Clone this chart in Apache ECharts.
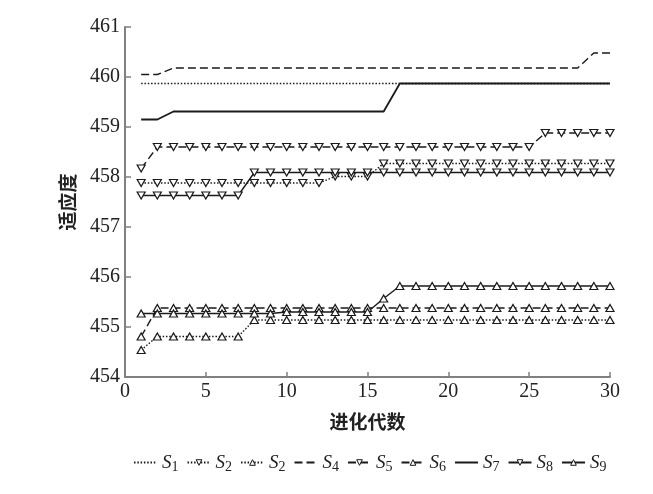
<!DOCTYPE html>
<html>
<head>
<meta charset="utf-8">
<script src="https://cdn.jsdelivr.net/npm/echarts@6/dist/echarts.min.js"></script>
<style>html,body{margin:0;padding:0;background:#fff;}#c{width:653px;height:494px;}</style>
</head>
<body>
<div id="c"></div>
<script>
var generations = [1,2,3,4,5,6,7,8,9,10,11,12,13,14,15,16,17,18,19,20,21,22,23,24,25,26,27,28,29,30];
var S1 = [459.87,459.87,459.87,459.87,459.87,459.87,459.87,459.87,459.87,459.87,459.87,459.87,459.87,459.87,459.87,459.87,459.87,459.87,459.87,459.87,459.87,459.87,459.87,459.87,459.87,459.87,459.87,459.87,459.87,459.87];
var S2 = [457.88,457.88,457.88,457.88,457.88,457.88,457.88,457.88,457.88,457.88,457.88,457.88,458.01,458.01,458.01,458.27,458.27,458.27,458.27,458.27,458.27,458.27,458.27,458.27,458.27,458.27,458.27,458.27,458.27,458.27];
var S3 = [454.54,454.81,454.81,454.81,454.81,454.81,454.81,455.14,455.14,455.14,455.14,455.14,455.14,455.14,455.14,455.14,455.14,455.14,455.14,455.14,455.14,455.14,455.14,455.14,455.14,455.14,455.14,455.14,455.14,455.14];
var S4 = [460.05,460.05,460.18,460.18,460.18,460.18,460.18,460.18,460.18,460.18,460.18,460.18,460.18,460.18,460.18,460.18,460.18,460.18,460.18,460.18,460.18,460.18,460.18,460.18,460.18,460.18,460.18,460.18,460.48,460.48];
var S5 = [458.17,458.6,458.6,458.6,458.6,458.6,458.6,458.6,458.6,458.6,458.6,458.6,458.6,458.6,458.6,458.6,458.6,458.6,458.6,458.6,458.6,458.6,458.6,458.6,458.6,458.88,458.88,458.88,458.88,458.88];
var S6 = [454.81,455.38,455.38,455.38,455.38,455.38,455.38,455.38,455.38,455.38,455.38,455.38,455.38,455.38,455.38,455.38,455.38,455.38,455.38,455.38,455.38,455.38,455.38,455.38,455.38,455.38,455.38,455.38,455.38,455.38];
var S7 = [459.15,459.15,459.31,459.31,459.31,459.31,459.31,459.31,459.31,459.31,459.31,459.31,459.31,459.31,459.31,459.31,459.87,459.87,459.87,459.87,459.87,459.87,459.87,459.87,459.87,459.87,459.87,459.87,459.87,459.87];
var S8 = [457.63,457.63,457.63,457.63,457.63,457.63,457.63,458.09,458.09,458.09,458.09,458.09,458.09,458.09,458.09,458.09,458.09,458.09,458.09,458.09,458.09,458.09,458.09,458.09,458.09,458.09,458.09,458.09,458.09,458.09];
var S9 = [455.27,455.27,455.27,455.27,455.27,455.27,455.27,455.27,455.27,455.3,455.3,455.3,455.3,455.3,455.3,455.57,455.82,455.82,455.82,455.82,455.82,455.82,455.82,455.82,455.82,455.82,455.82,455.82,455.82,455.82];
var seriesNames = ['S1','S2','S3','S4','S5','S6','S7','S8','S9'];
var legendLabels = ['1','2','2','4','5','6','7','8','9'];
var xTicks = [0,5,10,15,20,25,30];
var yTicks = [454,455,456,457,458,459,460,461];

var values = [S1,S2,S3,S4,S5,S6,S7,S8,S9];
var DOT = [1.5,1.8], DASH = [8,4];
var styles = [
  {type: DOT, symbol: 'none'},
  {type: DOT, symbol: 'triangle', rot: 180},
  {type: DOT, symbol: 'triangle', rot: 0},
  {type: DASH, symbol: 'none'},
  {type: DASH, symbol: 'triangle', rot: 180},
  {type: DASH, symbol: 'triangle', rot: 0},
  {type: 'solid', symbol: 'none'},
  {type: 'solid', symbol: 'triangle', rot: 180},
  {type: 'solid', symbol: 'triangle', rot: 0}
];
var INK = '#1a1a1a';
var series = values.map(function(v, i){
  var st = styles[i];
  return {
    name: seriesNames[i],
    type: 'line',
    data: generations.map(function(g, k){ return [g, v[k]]; }),
    symbol: st.symbol,
    symbolSize: [8, 7],
    symbolRotate: st.rot || 0,
    showSymbol: st.symbol !== 'none',
    lineStyle: {color: INK, width: i === 6 ? 1.8 : 1.4, type: st.type},
    itemStyle: {color: '#fff', borderColor: INK, borderWidth: 1.2},
    emphasis: {disabled: true},
    animation: false,
    z: i === 6 ? 3 : 2
  };
});

var legendData = seriesNames.map(function(n, i){
  if (styles[i].symbol === 'none') {
    return {name: n, itemStyle: {opacity: 0, borderWidth: 0, color: 'rgba(0,0,0,0)', borderColor: 'rgba(0,0,0,0)'}};
  }
  return {name: n, itemStyle: {color: '#fff', borderColor: INK, borderWidth: 1}};
});

var chart = echarts.init(document.getElementById('c'), null, {renderer: 'canvas'});
chart.setOption({
  backgroundColor: '#fff',
  animation: false,
  grid: {left: 125, right: 43, top: 27, bottom: 117},
  xAxis: {
    type: 'value', min: xTicks[0], max: xTicks[xTicks.length-1], interval: 5,
    name: '进化代数', nameLocation: 'middle', nameGap: 35,
    nameTextStyle: {fontFamily: 'Noto Sans CJK SC', fontSize: 19, color: '#222', fontWeight: 'bold'},
    axisLine: {show: true, lineStyle: {color: '#808080', width: 2}},
    axisTick: {show: true, inside: true, length: 5, lineStyle: {color: '#808080', width: 1.5}},
    axisLabel: {fontFamily: 'Liberation Serif', fontSize: 20, color: '#222', margin: 5},
    splitLine: {show: false}
  },
  yAxis: {
    type: 'value', min: yTicks[0], max: yTicks[yTicks.length-1], interval: 1,
    name: '适应度', nameLocation: 'middle', nameGap: 48, nameRotate: 90,
    nameTextStyle: {fontFamily: 'Noto Sans CJK SC', fontSize: 19, color: '#222', fontWeight: 'bold'},
    axisLine: {show: true, lineStyle: {color: '#808080', width: 2}},
    axisTick: {show: true, inside: true, length: 6, lineStyle: {color: '#808080', width: 1.5}},
    axisLabel: {fontFamily: 'Liberation Serif', fontSize: 20, color: '#222', margin: 5},
    splitLine: {show: false}
  },
  legend: {
    left: 128, top: 448, itemGap: 8, itemWidth: 23, itemHeight: 7,
    data: legendData,
    selectedMode: false,
    formatter: function(name){
      var idx = seriesNames.indexOf(name);
      return '{s|S}{n|' + legendLabels[idx] + '}';
    },
    textStyle: {
      color: '#222',
      rich: {
        s: {fontFamily: 'Liberation Serif', fontStyle: 'italic', fontSize: 19, color: '#222'},
        n: {fontFamily: 'Liberation Serif', fontSize: 14, color: '#222', padding: [9, 0, 0, 0]}
      }
    }
  },
  series: series
});
</script>
</body>
</html>
